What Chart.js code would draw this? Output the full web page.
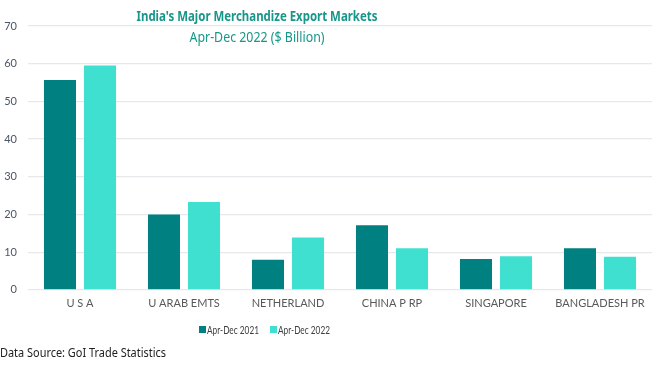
<!DOCTYPE html>
<html>
<head>
<meta charset="utf-8">
<script src="https://cdn.jsdelivr.net/npm/chart.js@4"></script>
<style>
  html, body { margin: 0; padding: 0; background: #fff; }
  #wrap { width: 663px; height: 366px; position: relative; }
</style>
</head>
<body>
<div id="wrap"><canvas id="exportChart"></canvas></div>
<script>
// ------------ DATA ------------
const categories = ['U S A', 'U ARAB EMTS', 'NETHERLAND', 'CHINA P RP', 'SINGAPORE', 'BANGLADESH PR'];
const exports2021 = [55.7, 20.0, 8.0, 17.1, 8.2, 11.0];
const exports2022 = [59.5, 23.3, 13.9, 11.0, 8.9, 8.8];
const seriesLabels = ['Apr-Dec 2021', 'Apr-Dec 2022'];
const yTicks = [0, 10, 20, 30, 40, 50, 60, 70];

const titleText = "India's Major Merchandize Export Markets";
const subtitleText = 'Apr-Dec 2022 ($ Billion)';
const sourceText = 'Data Source: GoI Trade Statistics';

const darkTeal = '#008080';
const turquoise = '#40E0D0';
const titleColor = '#17968a';
const narrow = '"Liberation Sans Narrow", Lato, sans-serif';

// ------------ PLUGINS ------------
// title, legend and source are drawn by hand so they sit where the original has them
const overlay = {
    id: 'overlay',
    afterDraw(chart) {
        const ctx = chart.ctx;
        ctx.save();
        ctx.textBaseline = 'middle';

        ctx.textAlign = 'center';
        ctx.fillStyle = titleColor;
        ctx.font = 'bold 15px "Noto Sans"';
        ctx.fillText(titleText, 257, 17, 241);
        ctx.font = '15px "Noto Sans"';
        ctx.fillText(subtitleText, 257, 38, 135);

        // legend
        ctx.textAlign = 'left';
        ctx.font = '12px ' + narrow;
        var x = 199;
        chart.data.datasets.forEach(function(ds) {
            ctx.fillStyle = ds.backgroundColor;
            ctx.fillRect(x, 326, 7, 7);
            ctx.fillStyle = '#404040';
            var w = Math.min(ctx.measureText(ds.label).width, 52);
            ctx.fillText(ds.label, x + 8, 330, 52);
            x += 8 + w + 11;
        });

        ctx.fillStyle = '#222';
        ctx.font = '13px "Noto Sans"';
        ctx.fillText(sourceText, 0, 353, 166);
        ctx.restore();
    }
};

// ------------ CHART ------------
const config = {
    type: 'bar',
    data: {
        labels: categories,
        datasets: [{
            label: seriesLabels[0],
            data: exports2021,
            backgroundColor: darkTeal,
            barPercentage: 0.8,
            categoryPercentage: 0.77
        }, {
            label: seriesLabels[1],
            data: exports2022,
            backgroundColor: turquoise,
            barPercentage: 0.8,
            categoryPercentage: 0.77
        }]
    },
    options: {
        responsive: true,
        maintainAspectRatio: false,
        animation: false,
        layout: { padding: { top: 26, right: 11, bottom: 49, left: 0 } },
        scales: {
            x: {
                grid: { display: false, drawTicks: false },
                border: { display: false },
                ticks: {
                    color: '#595959',
                    font: { family: narrow, size: 11 },
                    padding: 7,
                    maxRotation: 0,
                    autoSkip: false
                }
            },
            y: {
                min: 0,
                max: 70,
                afterBuildTicks: function(scale) {
                    scale.ticks = yTicks.map(function(v) { return { value: v }; });
                },
                grid: { color: '#e6e8ec', drawTicks: false, lineWidth: 1.2 },
                border: { display: false },
                ticks: {
                    color: '#4a5568',
                    font: { family: narrow, size: 11 },
                    padding: 11
                },
                afterFit: function(scale) { scale.width = 28; }
            }
        },
        plugins: {
            legend: { display: false },
            title: { display: false },
            tooltip: { enabled: false }
        }
    },
    plugins: [overlay]
};

var ctx = document.getElementById('exportChart').getContext('2d');
const exportChart = new Chart(ctx, config);
</script>
</body>
</html>
